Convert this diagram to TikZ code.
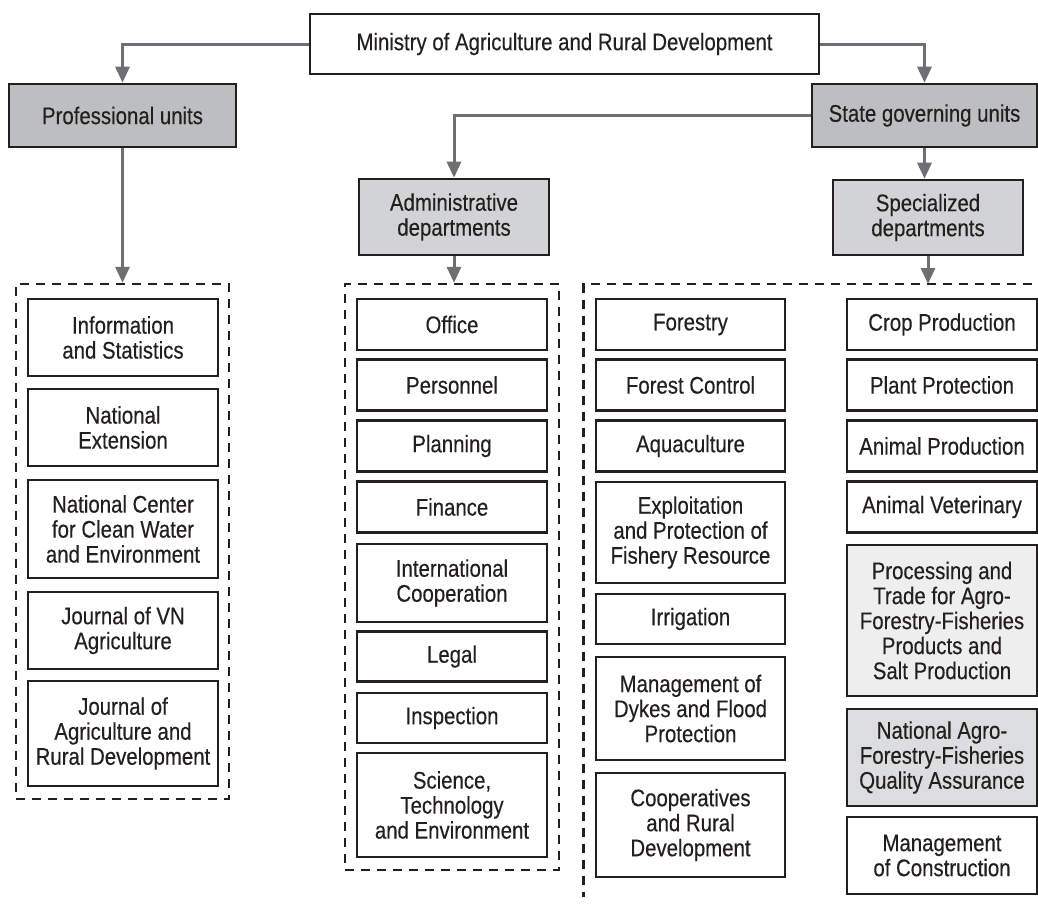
\documentclass[tikz,border=0pt]{standalone}
\usepackage{fontspec}
\setmainfont{Liberation Sans}[FakeStretch=0.85,FakeBold=0.3]
\usetikzlibrary{arrows.meta}
\definecolor{ink}{RGB}{35,31,32}
\definecolor{arrowgray}{RGB}{110,111,114}
\definecolor{gdark}{RGB}{189,190,192}
\definecolor{gmid}{RGB}{210,211,213}
\definecolor{glight}{RGB}{238,238,239}
\definecolor{gqa}{RGB}{220,221,222}
\tikzset{
  box/.style={draw=ink, line width=2.6pt, fill=white, inner sep=0pt, align=center,
    text=ink, font=\fontsize{24}{25}\selectfont},
  container/.style={draw=ink, line width=2.4pt, dash pattern=on 9pt off 7pt, inner sep=0pt},
  openline/.style={draw=ink, line width=2.4pt, dash pattern=on 9pt off 7pt},
  link/.style={draw=arrowgray, line width=3pt},
  arrowlink/.style={link, -{Triangle[length=16pt,width=14pt]}}
}
\begin{document}
\begin{tikzpicture}[x=1pt,y=-1pt]
\useasboundingbox (0,0) rectangle (1038,905);
% top level
\node[box, minimum width=509pt, minimum height=60pt] (ministry) at (564.5,44) {Ministry of Agriculture and Rural Development};
\node[box, fill=gdark, minimum width=227pt, minimum height=63pt] (prof) at (122.5,115.5) {Professional units};
\node[box, fill=gdark, minimum width=225pt, minimum height=63pt] (state) at (924.5,115.5) {State governing units};
\node[box, fill=gmid, minimum width=190pt, minimum height=76pt] (admin) at (454,217) {Administrative\\departments};
\node[box, fill=gmid, minimum width=190pt, minimum height=75pt] (spec) at (928,217.5) {Specialized\\departments};
% containers
\node[container, minimum width=213pt, minimum height=515pt] (lcont) at (122.4,541.5) {};
\node[container, minimum width=214pt, minimum height=586pt] (acont) at (452,577) {};
\coordinate (rtl) at (583.5,284);
\coordinate (rtr) at (1032,284);
\coordinate (rbl) at (583.5,897);
\draw[openline] (rtr) -- (rtl) -- (rbl);
% left column
\node[box, minimum width=190pt, minimum height=77pt] (info) at (123,337.5) {Information\\and Statistics};
\node[box, minimum width=190pt, minimum height=77pt] (ext) at (123,427.5) {National\\Extension};
\node[box, minimum width=190pt, minimum height=98pt] (ncenter) at (123,529) {National Center\\for Clean Water\\and Environment};
\node[box, minimum width=190pt, minimum height=77pt] (jvn) at (123,630.5) {Journal of VN\\Agriculture};
\node[box, minimum width=190pt, minimum height=105pt] (jard) at (123,733.5) {Journal of\\Agriculture and\\Rural Development};
% admin column
\node[box, minimum width=190pt, minimum height=51pt] (office) at (452,324.5) {Office};
\node[box, minimum width=190pt, minimum height=51pt] (personnel) at (452,385) {Personnel};
\node[box, minimum width=190pt, minimum height=51pt] (planning) at (452,446) {Planning};
\node[box, minimum width=190pt, minimum height=51pt] (finance) at (452,507) {Finance};
\node[box, minimum width=190pt, minimum height=78pt] (intl) at (452,583) {International\\Cooperation};
\node[box, minimum width=190pt, minimum height=50pt] (legal) at (452,656.5) {Legal};
\node[box, minimum width=190pt, minimum height=50pt] (insp) at (452,718) {Inspection};
\node[box, minimum width=190pt, minimum height=104pt] (sci) at (452,805) {Science,\\Technology\\and Environment};
% specialized column 1
\node[box, minimum width=189pt, minimum height=51pt] (forestry) at (690.5,324.5) {Forestry};
\node[box, minimum width=189pt, minimum height=51pt] (fcontrol) at (690.5,385) {Forest Control};
\node[box, minimum width=189pt, minimum height=51pt] (aqua) at (690.5,446) {Aquaculture};
\node[box, minimum width=189pt, minimum height=101pt] (exploit) at (690.5,532.5) {Exploitation\\and Protection of\\Fishery Resource};
\node[box, minimum width=189pt, minimum height=50pt] (irrig) at (690.5,619) {Irrigation};
\node[box, minimum width=189pt, minimum height=103pt] (dykes) at (690.5,708.5) {Management of\\Dykes and Flood\\Protection};
\node[box, minimum width=189pt, minimum height=104pt] (coop) at (690.5,825) {Cooperatives\\and Rural\\Development};
% specialized column 2
\node[box, minimum width=190pt, minimum height=51pt] (crop) at (942,324.5) {Crop Production};
\node[box, minimum width=190pt, minimum height=51pt] (plant) at (942,385) {Plant Protection};
\node[box, minimum width=190pt, minimum height=51pt] (animal) at (942,446) {Animal Production};
\node[box, minimum width=190pt, minimum height=51pt] (vet) at (942,507) {Animal Veterinary};
\node[box, fill=glight, minimum width=190pt, minimum height=151pt] (proc) at (942,620.5) {Processing and\\Trade for Agro-\\Forestry-Fisheries\\Products and\\Salt Production};
\node[box, fill=gqa, minimum width=190pt, minimum height=97pt] (qa) at (942,757.5) {National Agro-\\Forestry-Fisheries\\Quality Assurance};
\node[box, minimum width=190pt, minimum height=77pt] (constr) at (942,855.5) {Management\\of Construction};
% connectors
\draw[arrowlink] (ministry.west) -| (prof.north);
\draw[arrowlink] (ministry.east) -| (state.north);
\draw[arrowlink] (state.west) -| (admin.north);
\draw[arrowlink] (state.south) -- (state.south |- spec.north);
\draw[arrowlink] (prof.south) -- (prof.south |- lcont.north);
\draw[arrowlink] (admin.south) -- (admin.south |- acont.north);
\draw[arrowlink] (spec.south) -- (spec.south |- rtl);
\end{tikzpicture}
\end{document}
